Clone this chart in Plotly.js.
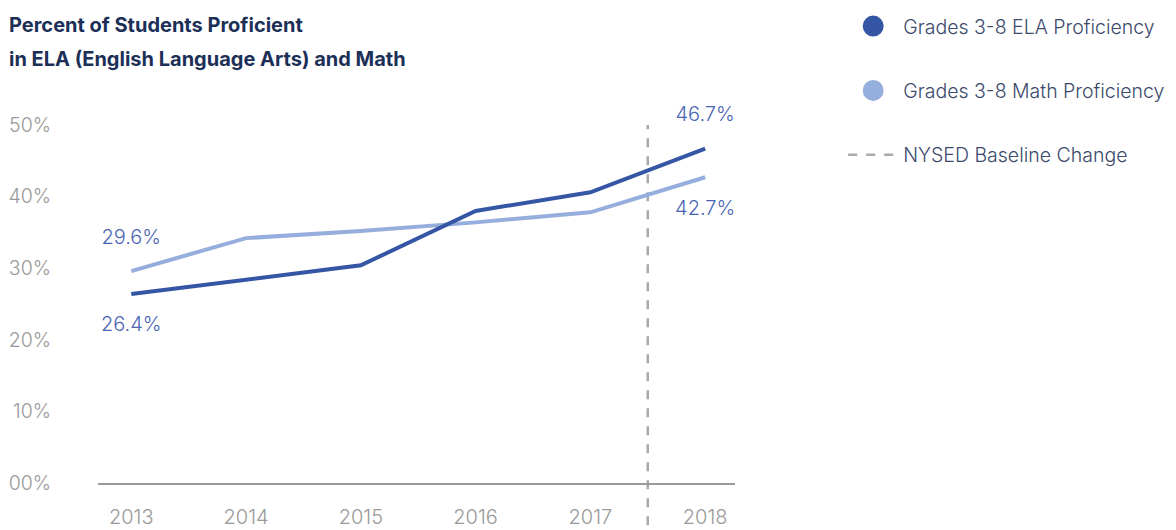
<!DOCTYPE html>
<html>
<head>
<meta charset="utf-8">
<script src="https://cdn.plot.ly/plotly-3.0.1.min.js"></script>
<style>
  html, body { margin: 0; padding: 0; background: #ffffff; }
  #chart { width: 1176px; height: 530px; }
</style>
</head>
<body>
<div id="chart"></div>
<script>
// ---- data ----
const years = [2013, 2014, 2015, 2016, 2017, 2018];
const elaValues = [26.4, 28.4, 30.4, 38.0, 40.6, 46.7];
const mathValues = [29.6, 34.2, 35.2, 36.4, 37.8, 42.7];
const yTickValues = [0, 10, 20, 30, 40, 50];
const yTickLabels = ["00%", "10%", "20%", "30%", "40%", "50%"];
const seriesNames = ["Grades 3-8 ELA Proficiency", "Grades 3-8 Math Proficiency", "NYSED Baseline Change"];
const baselineChangeX = 2017.5;
const titleLines = ["Percent of Students Proficient", "in ELA (English Language Arts) and Math"];

const ELA_COLOR = "#3456a4";
const MATH_COLOR = "#95aedd";
const LABEL_COLOR = "#4a65b3";
const FONT = "Inter, Roboto, 'Noto Sans', sans-serif";

function endLabels(vals) {
  return vals.map((v, i) => (i === 0 || i === vals.length - 1) ? v.toFixed(1) + "%" : "");
}

const traces = [
  {
    x: years, y: mathValues, type: "scatter", mode: "lines+markers+text",
    line: { color: MATH_COLOR, width: 4 },
    marker: { size: 34, opacity: 0, color: MATH_COLOR },
    text: endLabels(mathValues),
    textposition: ["top center", "top center", "top center", "top center", "top center", "bottom center"],
    textfont: { family: FONT, size: 20, color: LABEL_COLOR, weight: 300 },
    showlegend: false, hoverinfo: "skip", cliponaxis: false
  },
  {
    x: years, y: elaValues, type: "scatter", mode: "lines+markers+text",
    line: { color: ELA_COLOR, width: 4 },
    marker: { size: 34, opacity: 0, color: ELA_COLOR },
    text: endLabels(elaValues),
    textposition: ["bottom center", "top center", "top center", "top center", "top center", "top center"],
    textfont: { family: FONT, size: 20, color: LABEL_COLOR, weight: 300 },
    showlegend: false, hoverinfo: "skip", cliponaxis: false
  },
  // legend entries
  {
    x: [null], y: [null], type: "scatter", mode: "markers", name: seriesNames[0],
    marker: { size: 16, color: ELA_COLOR, line: { color: ELA_COLOR, width: 5 } },
    legendgroup: "a", showlegend: true
  },
  {
    x: [null], y: [null], type: "scatter", mode: "markers", name: seriesNames[1],
    marker: { size: 16, color: MATH_COLOR, line: { color: MATH_COLOR, width: 5 } },
    legendgroup: "b", showlegend: true
  },
  {
    x: [null], y: [null], type: "scatter", mode: "lines", name: seriesNames[2],
    line: { color: "#a9a9ad", width: 2.5, dash: "dash" },
    legendgroup: "c", showlegend: true
  }
];

const layout = {
  width: 1176, height: 530,
  margin: { l: 98, r: 441, t: 100, b: 47, pad: 0 },
  paper_bgcolor: "#ffffff", plot_bgcolor: "#ffffff",
  font: { family: FONT, color: "#999999" },
  showlegend: true,
  legend: {
    xref: "container", yref: "container",
    x: 0.717, y: 0.987, xanchor: "left", yanchor: "top",
    itemwidth: 50, tracegroupgap: 36,
    font: { family: FONT, size: 19.5, color: "#3b4a6c", weight: 300 },
    bgcolor: "rgba(0,0,0,0)"
  },
  xaxis: {
    range: [2012.71, 2018.26],
    tickvals: years, ticktext: years.map(String),
    showgrid: false, zeroline: false,
    showline: true, linecolor: "#999999", linewidth: 1.5,
    ticks: "", ticklabelstandoff: 15,
    tickfont: { family: FONT, size: 20, color: "#999999", weight: 300 },
    fixedrange: true, automargin: false
  },
  yaxis: {
    range: [0, 53.49],
    tickvals: yTickValues, ticktext: yTickLabels,
    showgrid: false, zeroline: false, showline: false,
    ticks: "", ticklabelstandoff: 46,
    tickfont: { family: FONT, size: 19.5, color: "#999999", weight: 300 },
    fixedrange: true, automargin: false
  },
  shapes: [
    {
      type: "line", xref: "x", yref: "paper",
      x0: baselineChangeX, x1: baselineChangeX, y0: -0.11, y1: 0.935,
      line: { color: "#a9a9ad", width: 2.5, dash: "dash" }, layer: "below"
    }
  ],
  annotations: titleLines.map((t, i) => ({
    text: "<b>" + t + "</b>",
    xref: "paper", yref: "paper",
    x: -98 / 637 + 7 / 637, y: 1 + (100 - 25 - 34 * i) / 383,
    xanchor: "left", yanchor: "middle", showarrow: false,
    font: { family: FONT, size: 20, color: "#1c2f57", weight: 700 }
  }))
};

Plotly.newPlot("chart", traces, layout, { displayModeBar: false, staticPlot: true });
</script>
</body>
</html>
